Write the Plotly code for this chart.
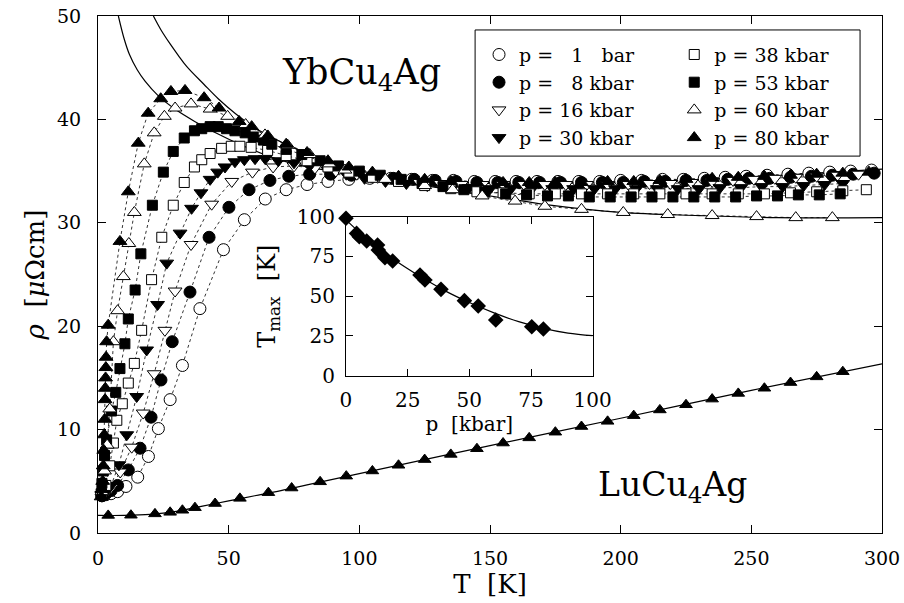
import plotly.graph_objects as go

# ---------------- data ----------------
# YbCu4Ag resistivity rho [uOhm cm] vs T [K] at several pressures
T_1bar = [1.5, 3, 5, 7.5, 10.7, 15.2, 19.3, 23.1, 27.6, 32.3, 39, 48, 56, 64, 72, 80, 88, 96, 104, 112, 120, 128, 136, 144, 152, 160, 168, 176, 184, 192, 200, 208, 216, 224, 232, 240, 248, 256, 264, 272, 280, 288, 296]
R_1bar = [3.6, 3.7, 3.8, 4.0, 4.5, 5.4, 7.4, 10.1, 12.9, 16.2, 21.7, 27.4, 30.3, 32.3, 33.2, 33.7, 34.0, 34.2, 34.3, 34.3, 34.2, 34.1, 34.1, 34.0, 34.0, 34.0, 34.0, 34.0, 34.0, 34.0, 34.1, 34.1, 34.2, 34.2, 34.3, 34.4, 34.5, 34.6, 34.7, 34.8, 34.9, 35.0, 35.1]

T_8 = [1.5, 3, 5, 7.5, 11.6, 16.1, 20.3, 24.1, 28.4, 35.2, 42.5, 50.1, 57.8, 65.8, 73, 81, 89, 97, 105, 113, 121, 129, 137, 145, 153, 161, 169, 177, 185, 193, 201, 209, 217, 225, 233, 241, 249, 257, 265, 273, 281, 289, 297]
R_8 = [3.6, 3.8, 4.1, 4.6, 6.1, 8.2, 11.2, 14.8, 18.5, 23.3, 28.6, 31.5, 33.2, 34.1, 34.5, 34.7, 34.7, 34.6, 34.5, 34.3, 34.2, 34.1, 34.0, 33.9, 33.9, 33.9, 33.9, 33.9, 33.9, 33.9, 33.9, 34.0, 34.0, 34.1, 34.1, 34.2, 34.3, 34.3, 34.4, 34.5, 34.6, 34.7, 34.8]

T_16 = [1.5, 3, 5, 8.5, 12.9, 17.3, 21.5, 25.6, 29.5, 35.6, 43.5, 51.2, 59.1, 67, 75, 83, 91, 99, 107, 115, 123, 131, 139, 147, 155, 163, 171, 179, 187, 195, 203, 211, 219, 227, 235, 243, 251, 259, 267, 275, 283, 291]
R_16 = [3.7, 3.9, 4.4, 5.9, 8.3, 11.6, 15.4, 19.6, 23.4, 27.9, 31.8, 34.0, 34.9, 35.4, 35.5, 35.3, 35.0, 34.7, 34.4, 34.1, 33.9, 33.8, 33.7, 33.7, 33.7, 33.7, 33.7, 33.7, 33.7, 33.7, 33.7, 33.8, 33.8, 33.9, 34.0, 34.1, 34.2, 34.3, 34.4, 34.5, 34.6, 34.7]

T_30 = [1.5, 3, 5, 8, 11, 14.8, 18.6, 22.8, 26.3, 31.4, 35.8, 39.4, 42.9, 45.8, 48.6, 52.4, 56, 60.1, 64, 69, 75, 81, 88, 95, 102, 110, 118, 126, 134, 142, 150, 158, 166, 174, 182, 190, 198, 206, 214, 222, 230, 238, 246, 254, 262, 270, 278, 285]
R_30 = [3.7, 4.0, 4.6, 6.6, 9.5, 13.2, 17.7, 22.1, 26.1, 29.0, 31.4, 32.9, 34.2, 34.9, 35.4, 35.9, 36.1, 36.2, 36.2, 36.0, 35.8, 35.5, 35.1, 34.7, 34.3, 34.0, 33.8, 33.6, 33.5, 33.4, 33.3, 33.3, 33.3, 33.3, 33.3, 33.3, 33.3, 33.3, 33.3, 33.3, 33.3, 33.4, 33.4, 33.5, 33.5, 33.6, 33.7, 33.8]

T_38 = [1.5, 3, 4.5, 5.9, 7.2, 9.3, 11.6, 13.9, 16.7, 20.5, 24.4, 28.8, 33, 36.9, 39.7, 42.9, 47.3, 51, 54.3, 58.6, 64.9, 72, 80, 88, 96, 105, 115, 125, 135, 145, 155, 165, 175, 185, 195, 205, 215, 225, 235, 245, 255, 265, 275, 285, 294]
R_38 = [3.8, 4.6, 6.5, 8.7, 10.9, 12.5, 14.5, 16.4, 19.6, 24.5, 28.6, 31.7, 33.9, 35.4, 36.1, 36.7, 37.2, 37.4, 37.4, 37.3, 37.0, 36.5, 36.0, 35.4, 34.9, 34.4, 34.0, 33.6, 33.3, 33.0, 32.9, 32.8, 32.8, 32.8, 32.8, 32.8, 32.8, 32.8, 32.8, 32.8, 32.8, 32.9, 33.0, 33.1, 33.2]

T_53 = [1.2, 1.5, 2, 2.5, 3.3, 5.2, 6.8, 8.4, 10.3, 11.6, 14.2, 16.4, 20.8, 25.0, 28.8, 33.0, 36.9, 39.7, 42.9, 46.0, 49.2, 52.4, 56.3, 59.4, 63.3, 66.5, 72, 78, 85, 92, 100, 108, 116, 124, 132, 140, 148, 156, 164, 172, 180, 188, 196, 204, 212, 220, 228, 236, 244, 252, 260, 268, 276, 284]
R_53 = [3.8, 4.8, 6.0, 7.5, 9.0, 11.8, 13.6, 15.9, 18.3, 20.7, 23.5, 27.0, 31.7, 34.9, 36.9, 38.2, 38.9, 39.1, 39.3, 39.3, 39.1, 38.9, 38.7, 38.3, 38.0, 37.6, 37.1, 36.6, 36.0, 35.5, 35.0, 34.6, 34.2, 33.8, 33.5, 33.2, 33.0, 32.8, 32.7, 32.6, 32.6, 32.5, 32.5, 32.5, 32.5, 32.5, 32.5, 32.5, 32.5, 32.6, 32.6, 32.7, 32.7, 32.8]

T_60 = [1.5, 2.5, 3.5, 4.5, 5.9, 7.5, 9.7, 11.8, 13.9, 17.7, 21.5, 25.4, 29.5, 35.6, 42.9, 49.6, 56.5, 63.9, 72.6, 81, 88.5, 94.5, 110, 125, 135.7, 147, 159.6, 171, 185, 201, 218, 235, 252, 267, 281]
R_60 = [4.0, 6.0, 8.5, 12.0, 18.5, 21.5, 24.8, 28.0, 31.0, 35.7, 38.7, 40.3, 41.1, 41.5, 41.0, 40.3, 39.5, 38.5, 37.5, 36.6, 35.7, 35.1, 34.2, 33.6, 33.2, 32.6, 32.1, 31.6, 31.3, 31.0, 30.8, 30.7, 30.6, 30.5, 30.5]

T_80 = [1.2, 1.5, 1.8, 2.0, 2.2, 2.4, 2.6, 2.7, 2.8, 2.9, 3.0, 3.1, 3.3, 3.9, 8.4, 11.6, 15.4, 19.2, 24.0, 27.9, 33.3, 40.6, 46.3, 54.0, 58.8, 65, 72, 80, 88, 96, 105, 115, 125, 135, 145, 155, 165, 175, 185, 195, 205, 215, 225, 235, 245, 255, 265, 275, 285, 295]
R_80 = [3.5, 4.2, 5.0, 6.5, 8.0, 9.5, 11.0, 12.9, 14.0, 15.0, 16.0, 17.0, 18.5, 20.1, 28.2, 33.0, 37.7, 40.6, 42.0, 42.7, 42.8, 42.1, 41.1, 39.8, 39.3, 38.4, 37.6, 36.8, 36.0, 35.4, 34.9, 34.5, 34.2, 34.0, 33.9, 33.9, 33.9, 33.9, 33.9, 34.0, 34.0, 34.1, 34.2, 34.3, 34.4, 34.5, 34.6, 34.7, 34.8, 34.9]

# fit curves through YbCu4Ag high-T data
T_fitA = [7.8, 10, 12, 15, 18, 23, 30, 37, 45, 55, 68, 80, 95, 110, 125, 140, 155, 173, 200, 230, 260, 300]
R_fitA = [50, 47.8, 46.3, 44.8, 43.7, 42.3, 40.9, 39.8, 38.7, 37.5, 36.2, 35.4, 34.8, 34.2, 33.6, 33.0, 32.4, 31.7, 31.0, 30.7, 30.5, 30.5]
T_fitB = [21.2, 24, 27.6, 30.7, 34, 40.5, 46, 52.4, 60, 67, 75.4, 88.8, 100, 108, 127, 150, 175, 200, 225, 250, 275, 300]
R_fitB = [50, 48.7, 47.3, 46.2, 45.1, 43.4, 42.0, 40.6, 39.2, 38.2, 37.2, 35.9, 35.1, 34.6, 34.0, 33.8, 33.8, 33.9, 34.1, 34.4, 34.8, 35.2]

# LuCu4Ag reference compound
T_Lu = [3.9, 12.6, 21.8, 27.6, 32.3, 37.1, 44.8, 54.3, 65.2, 74.1, 85, 95, 105, 115, 125, 135, 145, 155, 165, 175, 185, 195, 205, 215, 225, 235, 245, 255, 265, 275, 285]
R_Lu = [1.7, 1.72, 1.85, 2.0, 2.2, 2.45, 2.85, 3.35, 3.9, 4.35, 4.95, 5.5, 6.0, 6.55, 7.1, 7.6, 8.15, 8.7, 9.2, 9.75, 10.3, 10.8, 11.35, 11.9, 12.4, 12.95, 13.5, 14.0, 14.55, 15.1, 15.6]
T_Lufit = [0, 10, 20, 30, 40, 50, 60, 70, 80, 100, 150, 200, 250, 300]
R_Lufit = [1.7, 1.7, 1.8, 2.1, 2.6, 3.1, 3.6, 4.1, 4.65, 5.75, 8.45, 11.1, 13.8, 16.35]

# inset: T_max vs pressure
p_inset = [0, 4.3, 5.4, 8.4, 12.8, 13.1, 15.8, 18.9, 30, 32, 38.5, 48, 53.6, 60.7, 75.3, 80]
Tmax_inset = [99, 89.5, 87.4, 84.7, 82.2, 79, 74.2, 72.1, 63.3, 60.2, 54.3, 47.2, 43.8, 35, 30.8, 29.4]
p_fit = [0, 10, 20, 30, 40, 50, 60, 70, 80, 90, 100]
Tmax_fit = [98, 84, 72.5, 62.5, 53.5, 46, 39.5, 34, 29.8, 26.8, 25.2]

x_ticks = [0, 50, 100, 150, 200, 250, 300]
y_ticks = [0, 10, 20, 30, 40, 50]
inset_ticks = [0, 25, 50, 75, 100]

# ---------------- figure ----------------
FONT = "DejaVu Serif"
fig = go.Figure()

series = [
    ("p = \u20071 \u2007bar", T_1bar, R_1bar, "circle", "white", 12, "legend"),
    ("p = \u20078 kbar", T_8, R_8, "circle", "black", 12, "legend"),
    ("p = 16 kbar", T_16, R_16, "triangle-down", "white", 12, "legend"),
    ("p = 30 kbar", T_30, R_30, "triangle-down", "black", 12, "legend"),
    ("p = 38 kbar", T_38, R_38, "square", "white", 10, "legend2"),
    ("p = 53 kbar", T_53, R_53, "square", "black", 10, "legend2"),
    ("p = 60 kbar", T_60, R_60, "triangle-up", "white", 12, "legend2"),
    ("p = 80 kbar", T_80, R_80, "triangle-up", "black", 12, "legend2"),
]

# dotted connecting lines first
for name, T, R, sym, col, sz, lg in series:
    fig.add_trace(go.Scatter(x=T, y=R, mode="lines", showlegend=False,
                             line=dict(color="black", width=0.8, dash="dot"),
                             hoverinfo="skip"))
# fit curves
fig.add_trace(go.Scatter(x=T_fitA, y=R_fitA, mode="lines", showlegend=False,
                         line=dict(color="black", width=1.2, shape="spline")))
fig.add_trace(go.Scatter(x=T_fitB, y=R_fitB, mode="lines", showlegend=False,
                         line=dict(color="black", width=1.2, shape="spline")))
fig.add_trace(go.Scatter(x=T_Lufit, y=R_Lufit, mode="lines", showlegend=False,
                         line=dict(color="black", width=1.2, shape="spline")))
# markers
for name, T, R, sym, col, sz, lg in series:
    fig.add_trace(go.Scatter(x=T, y=R, mode="markers", name=name, legend=lg,
                             cliponaxis=False,
                             marker=dict(symbol=sym, size=sz, color=col,
                                         line=dict(color="black", width=1))))
fig.add_trace(go.Scatter(x=T_Lu, y=R_Lu, mode="markers", showlegend=False,
                         cliponaxis=False,
                         marker=dict(symbol="triangle-up", size=11, color="black",
                                     line=dict(color="black", width=1))))

# inset
fig.add_trace(go.Scatter(x=p_fit, y=Tmax_fit, mode="lines", showlegend=False,
                         xaxis="x2", yaxis="y2",
                         line=dict(color="black", width=1.2, shape="spline")))
fig.add_trace(go.Scatter(x=p_inset, y=Tmax_inset, mode="markers", showlegend=False,
                         xaxis="x2", yaxis="y2", cliponaxis=False,
                         marker=dict(symbol="diamond", size=12, color="black")))

axis_common = dict(showline=True, linecolor="black", linewidth=1.2, mirror="ticks",
                   ticks="inside", ticklen=8, tickcolor="black", tickwidth=1,
                   showgrid=False, zeroline=False, automargin=False,
                   tickfont=dict(family=FONT, size=19, color="black"))

fig.update_layout(
    width=904, height=603,
    margin=dict(l=98, r=22, t=16, b=70),
    plot_bgcolor="white", paper_bgcolor="white",
    font=dict(family=FONT, color="black"),
    xaxis=dict(range=[0, 300], tickvals=x_ticks, ticklabelstandoff=8,
               title=dict(text="T  [K]", font=dict(family=FONT, size=26), standoff=2),
               **axis_common),
    yaxis=dict(range=[0, 50], tickvals=y_ticks, ticklabelstandoff=12,
               title=dict(text="<i>ρ</i>  [<i>μ</i>Ωcm]", font=dict(family=FONT, size=26), standoff=4),
               **axis_common),
    xaxis2=dict(domain=[0.3163, 0.6310], anchor="y2", range=[0, 100], tickvals=inset_ticks,
                ticklabelstandoff=6,
                title=dict(text="p  [kbar]", font=dict(family=FONT, size=20), standoff=2),
                **{**axis_common, "ticklen": 7, "tickfont": dict(family=FONT, size=20, color="black")}),
    yaxis2=dict(domain=[0.3043, 0.6118], anchor="x2", range=[0, 100], tickvals=inset_ticks,
                ticklabelstandoff=6,
                title=dict(text="T<sub>max</sub>  [K]", font=dict(family=FONT, size=24), standoff=14),
                **{**axis_common, "ticklen": 7, "tickfont": dict(family=FONT, size=20, color="black")}),
    legend=dict(x=0.486, y=0.962, xanchor="left", yanchor="top", bgcolor="rgba(0,0,0,0)",
                borderwidth=0, itemwidth=30, tracegroupgap=0,
                font=dict(family=FONT, size=19, color="black")),
    legend2=dict(x=0.735, y=0.962, xanchor="left", yanchor="top", bgcolor="rgba(0,0,0,0)",
                 borderwidth=0, itemwidth=30, tracegroupgap=0,
                 font=dict(family=FONT, size=19, color="black")),
    shapes=[dict(type="rect", xref="paper", yref="paper", x0=0.481, x1=0.972,
                 y0=0.729, y1=0.973, line=dict(color="black", width=1))],
    annotations=[
        dict(text="YbCu<sub>4</sub>Ag", x=101, y=44.3, xref="x", yref="y", showarrow=False,
             font=dict(family=FONT, size=35, color="black")),
        dict(text="LuCu<sub>4</sub>Ag", x=220, y=4.5, xref="x", yref="y", showarrow=False,
             font=dict(family=FONT, size=33, color="black")),
    ],
)

fig.write_html("out.html", config={"displayModeBar": False},
               post_script="document.body.style.margin='0';document.body.style.padding='0';")
